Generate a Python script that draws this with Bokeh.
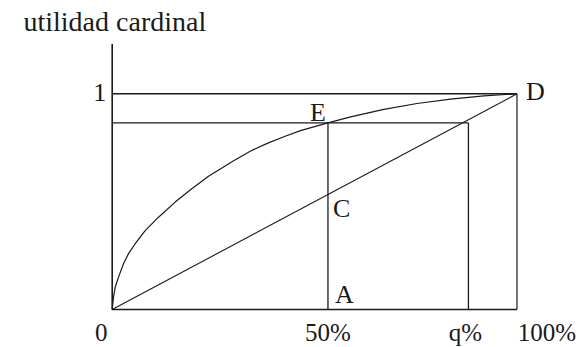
from bokeh.plotting import figure
from bokeh.models import Range1d
from bokeh.core.properties import value
from bokeh.embed import file_html
from bokeh.resources import INLINE

# ---- data ----
x_ticks = [0, 53.3, 88.0, 100]
tick_labels = ["0", "50%", "q%", "100%"]
u_top = 1.0
u_e = 0.865
axis_top = 1.231
curve_x = [0, 0.32, 0.74, 1.56, 2.79, 4.03, 5.68, 8.15, 11.44, 15.56, 19.66, 23.79,
           30.0, 34.2, 38.3, 42.4, 46.5, 53.3, 58.9, 67.1, 75.3, 83.6, 91.8, 100]
curve_y = [0, 0.057, 0.103, 0.150, 0.212, 0.259, 0.305, 0.366, 0.428, 0.498, 0.560, 0.618,
           0.690, 0.735, 0.770, 0.801, 0.829, 0.865, 0.893, 0.928, 0.955, 0.975, 0.990, 1.0]
title_text = "utilidad cardinal"

# ---- geometry of the frame ----
W, H = 587, 347
KX, KY = 4.048, 215.7
X0 = -111.7 / KX          # x=0 sits 111.7px from the canvas' left edge
Y1 = 309.0 / KY           # y=0 sits 309px from the canvas' top edge
p = figure(width=W, height=H, output_backend="svg", toolbar_location=None,
           x_range=Range1d(X0, X0 + W / KX), y_range=Range1d(Y1 - H / KY, Y1),
           min_border=0, outline_line_color=None, background_fill_color="white",
           border_fill_color="white")
p.axis.visible = False
p.grid.visible = False

def dx(px):
    return X0 + px / KX

def dy(py):
    return Y1 - py / KY

ink = "#1a1a1a"
FONT = value("Liberation Serif")
FS = "26px"

x_a, x_q, x_d = x_ticks[1], x_ticks[2], x_ticks[3]

# axes
p.line([0, 0], [0, axis_top], line_color=ink, line_width=1.6)
p.line([0, x_d], [0, 0], line_color=ink, line_width=1.6)
# frame lines
p.line([0, x_d], [u_top, u_top], line_color=ink, line_width=1.4)
p.line([x_d, x_d], [0, u_top], line_color=ink, line_width=1.2)
p.line([0, x_q], [u_e, u_e], line_color=ink, line_width=1.4)
p.line([x_a, x_a], [0, u_e], line_color=ink, line_width=1.3)
p.line([x_q, x_q], [0, u_e], line_color=ink, line_width=1.3)
# diagonal
p.line([0, x_d], [0, u_top], line_color=ink, line_width=1.1)
# utility curve
p.line(curve_x, curve_y, line_color=ink, line_width=1.2, line_join="round")

# tick labels along the bottom
offs = [-11, 0, -3, 30]
for xv, lab, o in zip(x_ticks, tick_labels, offs):
    p.text(x=[xv], y=[0], text=[lab], text_font=FONT, text_font_size="25px",
           text_color=ink, text_align="center", text_baseline="alphabetic",
           x_offset=o, y_offset=23)

# "1" on the vertical axis
p.text(x=[0], y=[u_top], text=["1"], text_font=FONT, text_font_size=FS,
       text_color=ink, text_align="right", text_baseline="alphabetic",
       x_offset=-6, y_offset=-1)

# point letters
p.text(x=[x_a], y=[u_e], text=["E"], text_font=FONT, text_font_size=FS,
       text_color=ink, text_align="right", text_baseline="alphabetic",
       x_offset=-2, y_offset=-10)
p.text(x=[x_d], y=[u_top], text=["D"], text_font=FONT, text_font_size=FS,
       text_color=ink, text_align="left", text_baseline="alphabetic",
       x_offset=9, y_offset=-2)
p.text(x=[x_a], y=[x_a / x_d * u_top], text=["C"], text_font=FONT, text_font_size=FS,
       text_color=ink, text_align="left", text_baseline="alphabetic",
       x_offset=5, y_offset=14)
p.text(x=[x_a], y=[0], text=["A"], text_font=FONT, text_font_size=FS,
       text_color=ink, text_align="left", text_baseline="alphabetic",
       x_offset=7, y_offset=-15)

# title at the top left
p.text(x=[dx(23)], y=[dy(21.3)], text=[title_text], text_font=FONT, text_font_size="28px",
       text_color=ink, text_align="left", text_baseline="alphabetic")

open("out.html", "w").write(file_html(p, INLINE))
